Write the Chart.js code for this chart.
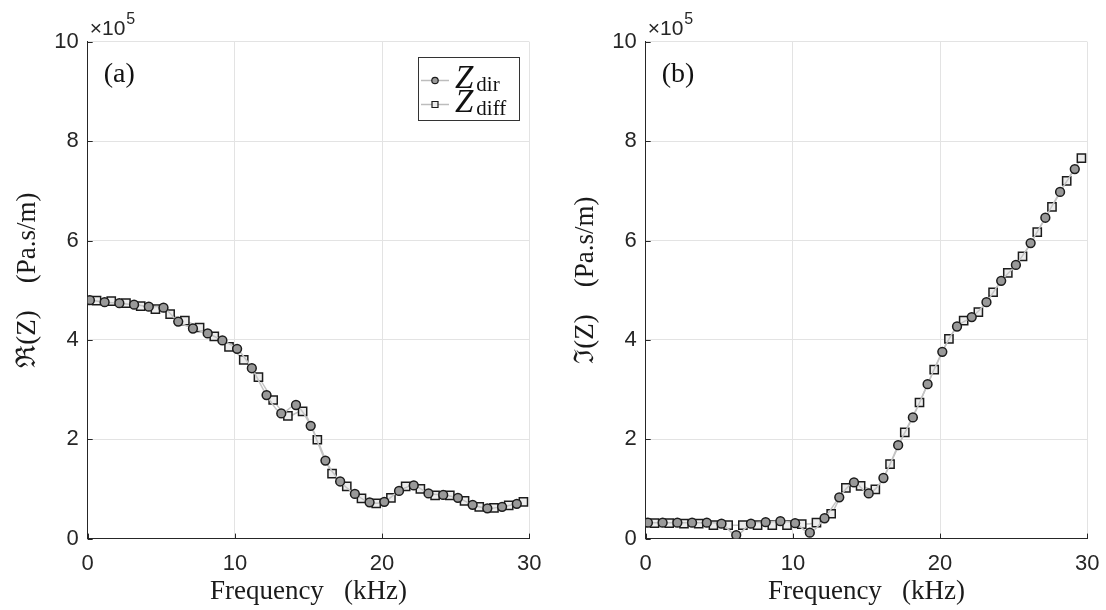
<!DOCTYPE html>
<html>
<head>
<meta charset="utf-8">
<script src="https://cdn.jsdelivr.net/npm/chart.js@4"></script>
<style>
html, body { margin: 0; padding: 0; background: #fff; overflow: hidden; }
.panel { position: absolute; top: 0; width: 548px; height: 610px; }
</style>
</head>
<body>
<div class="panel" style="left:0"><canvas id="reChart" width="548" height="610"></canvas></div>
<div class="panel" style="left:558px"><canvas id="imChart" width="548" height="610"></canvas></div>
<script>
// frequencies (kHz) of the two measurement sets
const freqDir  = [0.15, 1.15, 2.15, 3.15, 4.15, 5.15, 6.15, 7.15, 8.15, 9.15,
                  10.15, 11.15, 12.15, 13.15, 14.15, 15.15, 16.15, 17.15, 18.15, 19.15,
                  20.15, 21.15, 22.15, 23.15, 24.15, 25.15, 26.15, 27.15, 28.15, 29.15];
const freqDiff = [0.6, 1.6, 2.6, 3.6, 4.6, 5.6, 6.6, 7.6, 8.6, 9.6,
                  10.6, 11.6, 12.6, 13.6, 14.6, 15.6, 16.6, 17.6, 18.6, 19.6,
                  20.6, 21.6, 22.6, 23.6, 24.6, 25.6, 26.6, 27.6, 28.6, 29.6];

// impedance values, in units of 1e5 Pa.s/m
const reDir  = [4.80, 4.76, 4.74, 4.71, 4.67, 4.65, 4.37, 4.23, 4.13, 3.99,
                3.82, 3.43, 2.89, 2.52, 2.69, 2.27, 1.57, 1.15, 0.90, 0.73,
                0.74, 0.96, 1.07, 0.91, 0.88, 0.82, 0.68, 0.61, 0.64, 0.70];
const reDiff = [4.79, 4.78, 4.74, 4.68, 4.62, 4.52, 4.39, 4.25, 4.07, 3.86,
                3.60, 3.25, 2.79, 2.47, 2.56, 1.99, 1.31, 1.05, 0.81, 0.71,
                0.82, 1.05, 1.00, 0.87, 0.87, 0.76, 0.64, 0.62, 0.67, 0.74];
const imDir  = [0.32, 0.32, 0.32, 0.32, 0.32, 0.30, 0.07, 0.30, 0.33, 0.35,
                0.31, 0.12, 0.41, 0.83, 1.13, 0.91, 1.22, 1.88, 2.44, 3.11,
                3.76, 4.27, 4.46, 4.76, 5.19, 5.51, 5.95, 6.46, 6.98, 7.44];
const imDiff = [0.31, 0.31, 0.30, 0.30, 0.27, 0.27, 0.27, 0.27, 0.27, 0.27,
                0.29, 0.32, 0.50, 1.02, 1.06, 0.99, 1.50, 2.14, 2.74, 3.40,
                4.02, 4.39, 4.56, 4.96, 5.35, 5.68, 6.17, 6.68, 7.20, 7.66];

const xTicks = [0, 10, 20, 30];
const yTicks = [0, 2, 4, 6, 8, 10];

const INK = "#262626";
const GRID = "#e3e3e3";
const SERIF = '"Liberation Serif", "DejaVu Serif", serif';
const SANS = '"Liberation Sans", Arial, sans-serif';

function points(xs, ys) {
  return xs.map((x, i) => ({ x: x, y: ys[i] }));
}

function drawLegend(ctx) {
  const bx = 418.5, by = 57.5, bw = 101, bh = 63;
  ctx.fillStyle = "#fff";
  ctx.fillRect(bx, by, bw, bh);
  ctx.strokeStyle = "#333";
  ctx.lineWidth = 1;
  ctx.strokeRect(bx, by, bw, bh);

  const rows = [
    { y: 80.5, sub: "dir", shape: "circle", fill: "#9a9a9a" },
    { y: 104.5, sub: "diff", shape: "rect", fill: "#ececec" }
  ];
  rows.forEach(r => {
    ctx.strokeStyle = "#bdbdbd";
    ctx.lineWidth = 1.5;
    ctx.beginPath();
    ctx.moveTo(421, r.y);
    ctx.lineTo(449, r.y);
    ctx.stroke();
    ctx.fillStyle = r.fill;
    ctx.strokeStyle = "#1c1c1c";
    ctx.lineWidth = 1.2;
    ctx.beginPath();
    if (r.shape === "circle") ctx.arc(435, r.y, 3.2, 0, Math.PI * 2);
    else ctx.rect(432, r.y - 3, 6, 6);
    ctx.fill();
    ctx.stroke();

    ctx.fillStyle = "#111";
    ctx.textAlign = "left";
    ctx.textBaseline = "alphabetic";
    ctx.font = "italic 33px " + SERIF;
    ctx.fillText("Z", 455, r.y + 7);
    const zw = ctx.measureText("Z").width;
    ctx.font = "21px " + SERIF;
    ctx.fillText(r.sub, 455 + zw + 3, r.y + 10);
  });
}

const decor = {
  id: "decor",
  afterDraw(chart, args, opts) {
    const ctx = chart.ctx;
    const a = chart.chartArea;
    const xs = chart.scales.x, ys = chart.scales.y;
    ctx.save();

    // small inward tick marks like the original axes
    ctx.strokeStyle = INK;
    ctx.lineWidth = 1;
    xTicks.forEach(v => {
      const px = Math.round(xs.getPixelForValue(v)) + 0.5;
      ctx.beginPath();
      ctx.moveTo(px, a.bottom);
      ctx.lineTo(px, a.bottom - 5);
      ctx.stroke();
    });
    yTicks.forEach(v => {
      const py = Math.round(ys.getPixelForValue(v)) + 0.5;
      ctx.beginPath();
      ctx.moveTo(a.left, py);
      ctx.lineTo(a.left + 5, py);
      ctx.stroke();
    });

    // exponent of the y axis
    ctx.fillStyle = INK;
    ctx.textAlign = "left";
    ctx.textBaseline = "alphabetic";
    ctx.font = "21px " + SANS;
    ctx.fillText("×10", a.left + 2, 35);
    const w = ctx.measureText("×10").width;
    ctx.font = "16px " + SANS;
    ctx.fillText("5", a.left + 2 + w + 1, 24);

    // panel tag
    ctx.fillStyle = "#111";
    ctx.font = "28px " + SERIF;
    ctx.fillText(opts.tag, a.left + 16, 82);

    if (opts.legend) drawLegend(ctx);
    ctx.restore();
  }
};

function makeChart(id, dirVals, diffVals, yTitle, tag, legend) {
  const ctx = document.getElementById(id).getContext("2d");
  return new Chart(ctx, {
    type: "scatter",
    data: {
      datasets: [
        {
          label: "Zdir",
          data: points(freqDir, dirVals),
          showLine: true,
          tension: 0.3,
          borderColor: "#c4c4c4",
          borderWidth: 1.5,
          pointStyle: "circle",
          pointRadius: 4.4,
          pointBackgroundColor: "#999999",
          pointBorderColor: "#1c1c1c",
          pointBorderWidth: 1.5
        },
        {
          label: "Zdiff",
          data: points(freqDiff, diffVals),
          showLine: true,
          tension: 0.3,
          borderColor: "#c4c4c4",
          borderWidth: 1.5,
          pointStyle: "rect",
          pointRadius: 5.8,
          pointBackgroundColor: "#ececec",
          pointBorderColor: "#1c1c1c",
          pointBorderWidth: 1.5
        }
      ]
    },
    options: {
      responsive: false,
      animation: false,
      devicePixelRatio: 1,
      layout: { padding: { top: 41.9, right: 18.7, left: 0, bottom: 0 } },
      plugins: {
        legend: { display: false },
        tooltip: { enabled: false },
        decor: { tag: tag, legend: legend }
      },
      scales: {
        x: {
          type: "linear",
          min: 0,
          max: 30,
          afterBuildTicks: s => { s.ticks = xTicks.map(v => ({ value: v })); },
          afterFit: s => { s.height = 71.4; s.paddingLeft = 0; s.paddingRight = 0; },
          ticks: { color: INK, font: { family: SANS, size: 22 }, padding: 12, maxRotation: 0 },
          grid: { color: GRID, lineWidth: 1, drawTicks: false },
          border: { color: INK, width: 1 },
          title: {
            display: true,
            text: "Frequency   (kHz)",
            color: "#1a1a1a",
            font: { family: SERIF, size: 27 },
            padding: { top: 0, bottom: 2 }
          }
        },
        y: {
          min: 0,
          max: 10,
          afterBuildTicks: s => { s.ticks = yTicks.map(v => ({ value: v })); },
          afterFit: s => { s.width = 87.7; s.paddingTop = 0; s.paddingBottom = 0; },
          ticks: { color: INK, font: { family: SANS, size: 22 }, padding: 9 },
          grid: { color: GRID, lineWidth: 1, drawTicks: false },
          border: { color: INK, width: 1 },
          title: {
            display: true,
            text: "   " + yTitle,
            color: "#1a1a1a",
            font: { family: SERIF, size: 27 },
            padding: { top: 12, bottom: 0 }
          }
        }
      }
    },
    plugins: [decor]
  });
}

makeChart("reChart", reDir, reDiff, "ℜ(Z)    (Pa.s/m)", "(a)", true);
makeChart("imChart", imDir, imDiff, "ℑ(Z)    (Pa.s/m)", "(b)", false);
</script>
</body>
</html>
